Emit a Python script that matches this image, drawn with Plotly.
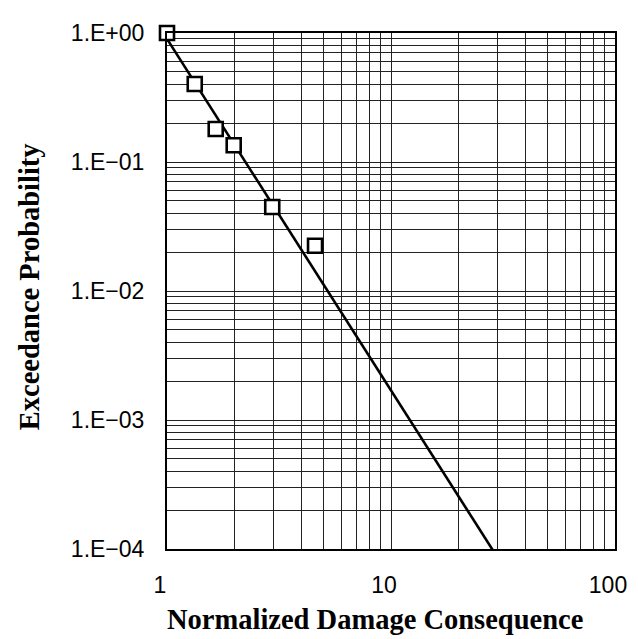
import plotly.graph_objects as go

# Data
damage = [1.0, 1.33, 1.65, 1.985, 2.95, 4.58]
exceed = [1.0, 0.402, 0.180, 0.135, 0.0448, 0.0224]

fit_x = [1.0, 29.5]
fit_y = [0.90, 8.9e-5]

x_tickvals = [1, 10, 100]
x_ticktext = ["1", "10", "100"]
y_tickvals = [1e0, 1e-1, 1e-2, 1e-3, 1e-4]
y_ticktext = ["1.E+00", "1.E\u221201", "1.E\u221202", "1.E\u221203", "1.E\u221204"]

x_title = "Normalized Damage Consequence"
y_title = "Exceedance Probability"

fig = go.Figure()
fig.add_trace(go.Scatter(x=fit_x, y=fit_y, mode="lines",
                         line=dict(color="black", width=2.6),
                         cliponaxis=False, showlegend=False))
fig.add_trace(go.Scatter(x=damage, y=exceed, mode="markers",
                         marker=dict(symbol="square", size=14, color="white",
                                     line=dict(color="black", width=2.6)),
                         cliponaxis=False, showlegend=False))

grid_col = "#222222"
tick_font = dict(family="Liberation Sans, Arial", size=23, color="black")
fig.update_xaxes(type="log", range=[0, 2],
                 tickmode="array", tickvals=x_tickvals, ticktext=x_ticktext,
                 tickfont=tick_font,
                 ticks="", ticklabelstandoff=14, ticklabelshift=-7,
                 showgrid=True, gridcolor=grid_col, gridwidth=1,
                 minor=dict(dtick="D1", showgrid=True, gridcolor=grid_col, gridwidth=1, ticks=""),
                 showline=True, linecolor="black", linewidth=2, mirror=True,
                 zeroline=False)
fig.update_yaxes(type="log", range=[-4, 0],
                 tickmode="array", tickvals=y_tickvals, ticktext=y_ticktext,
                 tickfont=tick_font,
                 ticks="", ticklabelstandoff=16,
                 showgrid=True, gridcolor=grid_col, gridwidth=1,
                 minor=dict(dtick="D1", showgrid=True, gridcolor=grid_col, gridwidth=1, ticks=""),
                 showline=True, linecolor="black", linewidth=2, mirror=True,
                 zeroline=False)

fig.add_annotation(text="<b>" + x_title + "</b>", xref="paper", yref="paper",
                   x=-0.005, y=-0.137, xanchor="left", yanchor="middle", showarrow=False,
                   font=dict(family="Liberation Serif, Times New Roman", size=28.5, color="black"))
fig.add_annotation(text="<b>" + y_title + "</b>", xref="paper", yref="paper",
                   x=-0.305, y=0.508, xanchor="center", yanchor="middle", showarrow=False,
                   textangle=-90,
                   font=dict(family="Liberation Serif, Times New Roman", size=28.5, color="black"))

fig.update_layout(width=638, height=639,
                  margin=dict(l=159, r=31, t=23, b=98),
                  plot_bgcolor="white", paper_bgcolor="white")

fig.write_html("out.html")
